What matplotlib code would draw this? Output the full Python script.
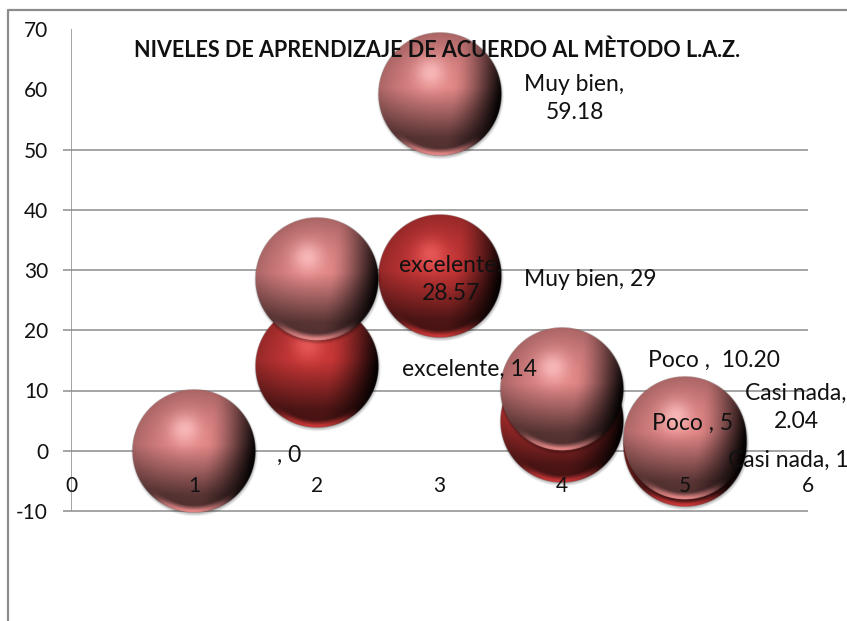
import numpy as np
import matplotlib
matplotlib.use('Agg')
import matplotlib.pyplot as plt
from matplotlib.lines import Line2D

plt.rcParams['font.family'] = ['Lato', 'DejaVu Sans']
plt.rcParams['axes.unicode_minus'] = False

# data
x_dark = [2, 3, 4, 5]
y_dark = [14, 29, 5, 1]
labels_dark = ['excelente, 14', 'Muy bien, 29', 'Poco , 5', 'Casi nada, 1']

x_light = [1, 2, 3, 4, 5]
y_light = [0, 28.57, 59.18, 10.20, 2.04]
labels_light = [', 0', 'excelente,\n28.57', 'Muy bien,\n59.18', 'Poco ,  10.20', 'Casi nada,\n2.04']

x_ticks = [0, 1, 2, 3, 4, 5, 6]
y_ticks = [-10, 0, 10, 20, 30, 40, 50, 60, 70]
grid_y = [-10, 0, 10, 20, 30, 40, 50]
title = 'NIVELES DE APRENDIZAJE DE ACUERDO AL MÈTODO L.A.Z.'

# label offsets from the point, pixels
off_dark = [(153, -3), (151, -3), (130, -3), (103, -16)]
off_light = [(95, -5), (134, -1), (135, -4), (152, 29), (111, 31)]

W, H = 847, 621
GRAY = '#8c8c8c'
FS = 15
FS_LABEL = 16.5


def sphere(base, spec):
    # shaded ball as rgba image, 1.08 radius wide
    n = 260
    lim = 1.08
    u, v = np.meshgrid(np.linspace(-lim, lim, n), np.linspace(lim, -lim, n))
    r = np.sqrt(u**2 + v**2)
    shade = 1.0 - 0.25*r**2
    # right side falls to near black
    dr = np.clip((u*0.95 - v*0.15 - 0.2)/0.72, 0, 1)**1.4
    shade = shade*(1 - 0.95*dr)
    # darker and greyer band above the bottom edge
    db = np.clip((-v + 0.1)/0.8, 0, 1)
    shade = shade*(1 - 0.55*db)
    # bright crescent along the bottom edge
    rim = np.clip((r - 0.88)/0.08, 0, 1) * np.clip((-v - 0.6)/0.25, 0, 1) * np.clip(1 - (u + 0.05)**2/0.55, 0, 1)
    shade = shade + 0.65*rim
    # soft highlight
    hl = np.exp(-((u + 0.15)**2 + (v - 0.35)**2)/0.06)
    base = np.array(base)/255
    spec = np.array(spec)/255
    rgb = np.clip(shade[..., None]*base, 0, 1)
    rgb = rgb*(1 - 0.8*hl[..., None]) + spec*0.8*hl[..., None]
    # edge and small shadow
    inside = np.clip((1 - r)*n/(2*lim), 0, 1)
    shadow = 0.3*np.clip((1.03 - np.hypot(u - 0.01, v + 0.03))/0.06, 0, 1)
    alpha = inside + (1 - inside)*shadow
    rgb = rgb*inside[..., None]/np.maximum(alpha[..., None], 1e-3)
    return np.dstack([np.clip(rgb, 0, 1), alpha])


fig = plt.figure(figsize=(W/100, H/100), dpi=100)
ax = fig.add_axes([71/W, 1 - 511/H, 737/W, 482/H])

# frame of the chart area
fig.add_artist(Line2D([8/W, 8/W, 1], [0, 1 - 10/H, 1 - 10/H], color=GRAY, lw=1.6))

# grid and left axis go under the spheres, tick labels stay on top
ax.hlines(grid_y, -8/122.8, 6, color=GRAY, lw=1.1, zorder=1, clip_on=False)
ax.vlines(0, -10, 70, color=GRAY, lw=1.1, zorder=1)

rx, ry = 62/122.8, 62/6.025
img_dark = sphere((200, 54, 54), (238, 95, 95))
img_light = sphere((226, 134, 134), (255, 195, 195))

for xs, ys, img, z in [(x_dark, y_dark, img_dark, 2), (x_light, y_light, img_light, 2.2)]:
    for k, (a, b) in enumerate(zip(xs, ys)):
        ax.imshow(img, extent=[a - 1.08*rx, a + 1.08*rx, b - 1.08*ry, b + 1.08*ry],
                  aspect='auto', zorder=z + k*0.01, clip_on=False, interpolation='bilinear')

for xs, ys, labs, offs in [(x_dark, y_dark, labels_dark, off_dark), (x_light, y_light, labels_light, off_light)]:
    for a, b, t, o in zip(xs, ys, labs, offs):
        ax.annotate(t, (a, b), xytext=(o[0]*0.72, o[1]*0.72), textcoords='offset points',
                    ha='center', va='center', fontsize=FS_LABEL, color='#111111', zorder=5,
                    linespacing=1.4, annotation_clip=False)

ax.set_xlim(0, 6)
ax.set_ylim(-10, 70)
ax.set_xticks(x_ticks)
ax.set_yticks(y_ticks)
ax.set_axisbelow(False)  # tick labels over the spheres
ax.patch.set_visible(False)
for s in ax.spines.values():
    s.set_visible(False)
ax.tick_params(axis='y', length=0, pad=16.5, labelsize=FS, labelcolor='#111111')
# x labels sit just under the zero line, so the pad is negative from the bottom
ax.tick_params(axis='x', length=0, labelsize=FS, labelcolor='#111111', pad=-35*0.72)

fig.text(437/W, 1 - 50/H, title, ha='center', va='center', fontsize=15.5, fontweight='bold', color='#111111')

fig.savefig('out.png', dpi=100)
